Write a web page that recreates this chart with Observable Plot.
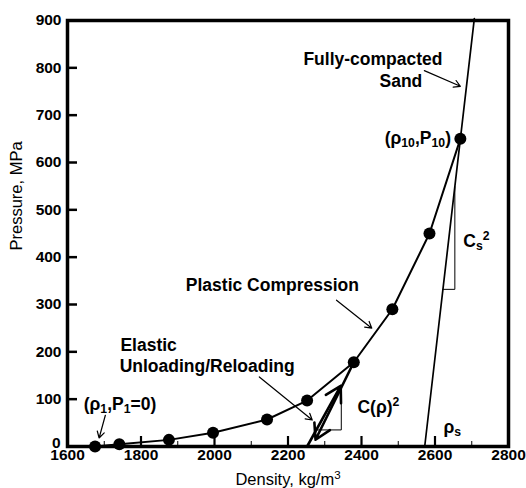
<!DOCTYPE html>
<html><head><meta charset="utf-8">
<script src="https://cdn.jsdelivr.net/npm/d3@7"></script>
<script src="https://cdn.jsdelivr.net/npm/@observablehq/plot@0.6"></script>
<style>body{margin:0;background:#fff} svg{display:block}</style>
</head><body><div id="chart"></div>
<script>
// ---- data ----
const density  = [1675, 1741, 1876, 1996, 2143, 2252, 2379, 2484, 2585, 2669];
const pressure = [0, 5, 14, 29, 57, 97, 178, 290, 450, 650];
const sandDensity  = [2572, 2707];
const sandPressure = [0, 904];
const reloadStart = [2252, 0];
const xTicks = [1600, 1800, 2000, 2200, 2400, 2600, 2800];
const xMinor = [1700, 1900, 2100, 2300, 2500, 2700];
const yTicks = [0, 100, 200, 300, 400, 500, 600, 700, 800, 900];
const cTriX = [2277, 2345, 2345];
const cTriY = [35, 35, 130];
const csTriX = [2621.5, 2654, 2654];
const csTriY = [332, 332, 549];
const annoText = ["Fully-compacted", "Sand", "Plastic Compression", "Elastic", "Unloading/Reloading",
                  "(ρ_{1},P_{1}=0)", "(ρ_{10},P_{10})", "C(ρ)^{2}", "C_{s}^{2}", "ρ_{s}"];
const annoX = [2242, 2449, 1922, 1744, 1742, 1644, 2463, 2389, 2677, 2623];
const annoY = [818, 772, 340, 214, 170, 88, 651, 83, 433, 40];
const arrowX1 = [1703, 2122, 2332, 2571];
const arrowY1 = [66, 147, 309, 794];
const arrowX2 = [1686, 2266, 2428, 2669];
const arrowY2 = [18, 56, 250, 761];
const xTitle = "Density, kg/m^{3}";
const yTitle = "Pressure, MPa";
const yTitleAt = 414;

// ---- tables ----
const pts = density.map((d, i) => ({x: d, y: pressure[i]}));
const sand = sandDensity.map((d, i) => ({x: d, y: sandPressure[i]}));
const cTri = cTriX.map((d, i) => ({x: d, y: cTriY[i]}));
const csTri = csTriX.map((d, i) => ({x: d, y: csTriY[i]}));
const annos = annoText.map((t, i) => ({t, x: annoX[i], y: annoY[i]}));
const arrows = arrowX1.map((d, i) => ({x1: d, y1: arrowY1[i], x2: arrowX2[i], y2: arrowY2[i]}));
const p7 = pts[6];
const thick = [
  {x1: p7.x, y1: p7.y, x2: reloadStart[0] + 0.18 * (p7.x - reloadStart[0]), y2: reloadStart[1] + 0.08 * (p7.y - reloadStart[1])},
  {x1: reloadStart[0], y1: reloadStart[1], x2: reloadStart[0] + 0.72 * (p7.x - reloadStart[0]), y2: 0.72 * p7.y}
];

const W = 526, H = 488, mL = 67, mR = 18, mT = 20, mB = 42;
const fw = W - mL - mR, fh = H - mT - mB;
const font = "'Liberation Sans', Arial, Helvetica, sans-serif";

const chart = Plot.plot({
  width: W, height: H,
  marginLeft: mL, marginRight: mR, marginTop: mT, marginBottom: mB,
  x: {domain: [1600, 2800], axis: null},
  y: {domain: [0, 900], axis: null},
  style: {fontFamily: font, background: "white", color: "black", overflow: "visible"},
  marks: [
    Plot.tickX(xTicks.slice(1, -1), {x: d => d, insetTop: fh - 10, strokeWidth: 2.2}),
    Plot.tickX(xMinor, {x: d => d, insetTop: fh - 5, strokeWidth: 1}),
    Plot.tickY(yTicks.slice(1, -1), {y: d => d, insetRight: fw - 10, strokeWidth: 2.5}),
    Plot.text(xTicks, {x: d => d, frameAnchor: "bottom", lineAnchor: "middle", dy: 8.5, text: d => String(d), fontSize: 15.5, fontWeight: "bold"}),
    Plot.text(yTicks.slice(1), {y: d => d, frameAnchor: "left", lineAnchor: "middle", textAnchor: "end", dx: -6, text: d => String(d), fontSize: 15.5, fontWeight: "bold"}),
    Plot.text(yTicks.slice(0, 1), {y: d => d, frameAnchor: "left", lineAnchor: "middle", textAnchor: "end", dx: -7, dy: -3, text: d => String(d), fontSize: 15.5, fontWeight: "bold"}),
    Plot.text([xTitle], {frameAnchor: "bottom", lineAnchor: "middle", dy: 33.5, text: d => d, fontSize: 16.5}),
    Plot.text([yTitle], {y: () => yTitleAt, frameAnchor: "left", lineAnchor: "middle", dx: -51, rotate: -90, text: d => d, fontSize: 16.5}),
    Plot.line(cTri, {x: "x", y: "y", stroke: "black", strokeWidth: 1}),
    Plot.line(csTri, {x: "x", y: "y", stroke: "black", strokeWidth: 1}),
    Plot.line(sand, {x: "x", y: "y", stroke: "black", strokeWidth: 1.7}),
    Plot.line(pts, {x: "x", y: "y", stroke: "black", strokeWidth: 2}),
    Plot.arrow(thick, {x1: "x1", y1: "y1", x2: "x2", y2: "y2", stroke: "black", strokeWidth: 2.6, headLength: 10}),
    Plot.arrow(arrows, {x1: "x1", y1: "y1", x2: "x2", y2: "y2", stroke: "black", strokeWidth: 1.2, headLength: 9}),
    Plot.dot(pts, {x: "x", y: "y", r: 6, fill: "black"}),
    Plot.text(annos, {x: "x", y: "y", text: "t", textAnchor: "start", lineAnchor: "middle", fontSize: 17.5, fontWeight: "bold"}),
    Plot.frame({stroke: "black", strokeWidth: 3.5})
  ]
});

// sub/superscripts as real tspans
chart.querySelectorAll("text").forEach(t => {
  const s = t.textContent;
  if (!/[_^]\{/.test(s)) return;
  const parts = s.split(/([_^]\{[^}]*\})/).filter(p => p);
  t.textContent = "";
  for (const p of parts) {
    const ts = document.createElementNS("http://www.w3.org/2000/svg", "tspan");
    if (p.startsWith("_{")) {
      ts.textContent = p.slice(2, -1);
      ts.setAttribute("font-size", "0.7em");
      ts.setAttribute("baseline-shift", "-0.25em");
    } else if (p.startsWith("^{")) {
      ts.textContent = p.slice(2, -1);
      ts.setAttribute("font-size", "0.7em");
      ts.setAttribute("baseline-shift", "0.55em");
    } else ts.textContent = p;
    t.appendChild(ts);
  }
});
document.getElementById("chart").appendChild(chart);
</script></body></html>
